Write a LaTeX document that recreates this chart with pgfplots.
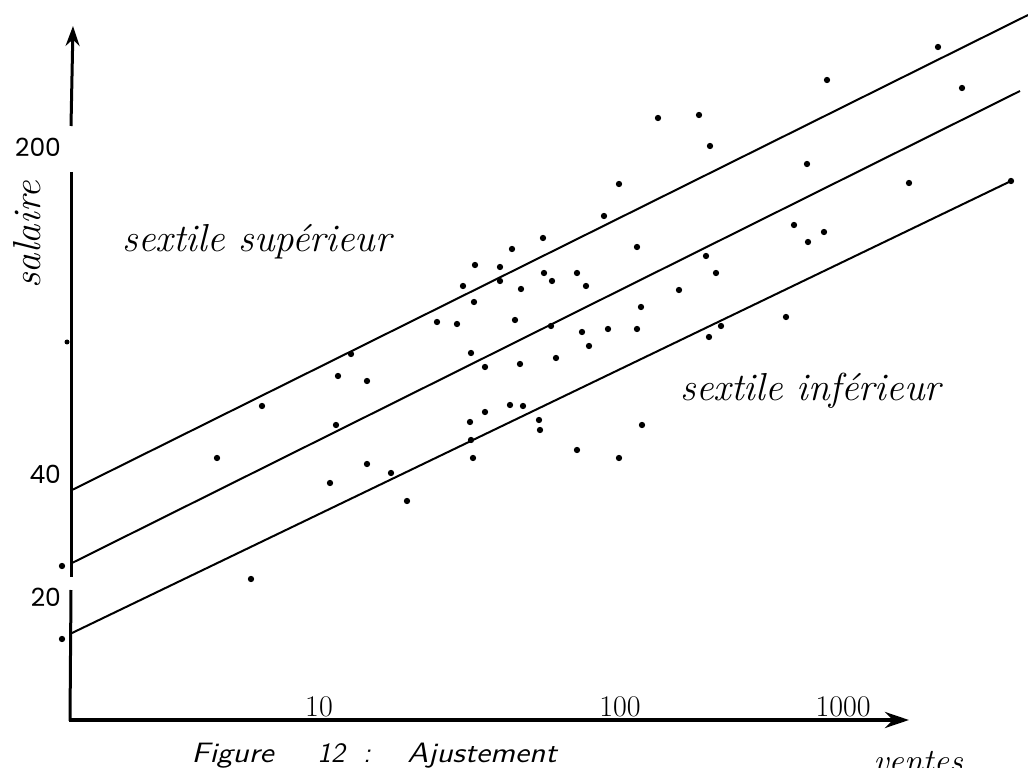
\documentclass[border=0pt]{standalone}
\usepackage{fontspec}
\usepackage{graphicx}
\usepackage{pgfplots}
\pgfplotsset{compat=1.18}
\usepackage{pgfplotstable}
\usetikzlibrary{arrows.meta}
\newfontfamily\numfont{Poppins}
\newcommand\hand{\fontsize{19.5}{23}\selectfont\itshape}

% points (picture units: px from left, py from top)
\pgfplotstableread{
px py
62 566
62 639
217 458
262 406
251 579
336 425
338 376
351 354
367 381
367 464
391 473
330 483
407 501
437 322
457 324
463 286
474 302
475 265
471 353
485 367
470 422
485 412
510 405
523 406
539 420
540 430
471 440
473 458
500 267
500 281
512 249
515 320
521 289
520 364
543 238
544 273
552 281
551 326
556 358
577 273
586 286
582 332
589 346
577 450
604 216
608 329
619 184
619 458
637 247
637 329
641 307
642 425
658 118
679 290
699 115
706 256
709 337
710 146
716 273
721 326
786 317
794 225
807 164
808 242
824 232
827 80
909 183
938 47
962 88
1011 181
}\pointstab
\pgfplotstableread{
px py
72 490
1028 15
}\upperline
\pgfplotstableread{
px py
72 563
1020 91
}\midline
\pgfplotstableread{
px py
72 633
1011 181
}\lowerline

\begin{document}
\begin{tikzpicture}
\useasboundingbox (0,0) rectangle (514pt,383.5pt);
\begin{axis}[
  at={(0,0)}, anchor=south west,
  scale only axis, width=514pt, height=383.5pt,
  xmin=-0.05980, xmax=3.35548, ymin=0.95320, ymax=2.62060,
  axis line style={draw=none}, major tick length=0pt, tick style={draw=none},
  clip=false,
  xtick={1,2,2.741}, xticklabels={10,100,1000},
  ytick={1.32277,1.59016,2.30103}, yticklabels={20,40,200},
  x tick label style={anchor=base, yshift=25.5pt, font=\fontsize{15}{15}\selectfont},
  y tick label style={anchor=east, xshift=34pt, font=\numfont\fontsize{12.5}{12.5}\selectfont},
]
\addplot[only marks, mark=*, mark size=1.35pt, mark options={draw=black,fill=black}]
  table[x expr={1+(\thisrow{px}-319)/301}, y expr={2.30103-(\thisrow{py}-147)/460}] {\pointstab};
\addplot[black, line width=1pt]
  table[x expr={1+(\thisrow{px}-319)/301}, y expr={2.30103-(\thisrow{py}-147)/460}] {\upperline};
\addplot[black, line width=1pt]
  table[x expr={1+(\thisrow{px}-319)/301}, y expr={2.30103-(\thisrow{py}-147)/460}] {\midline};
\addplot[black, line width=1pt]
  table[x expr={1+(\thisrow{px}-319)/301}, y expr={2.30103-(\thisrow{py}-147)/460}] {\lowerline};
\end{axis}
\begin{scope}[x=0.5pt, y=-0.5pt, yshift=383.5pt]
  \draw[line width=1.5pt, -{Stealth[length=10pt,width=7pt]}] (71,126) -- (73,26);
  \draw[line width=1.5pt] (71,172) -- (71,577);
  \draw[line width=1.5pt] (71,590) -- (70,721);
  \draw[line width=2pt, -{Stealth[length=12pt,width=8pt]}] (69,720) -- (909,720);
  \fill (67,342) circle (2.5);
  \node[anchor=base west, font=\hand, inner sep=0pt] at (122,252) {sextile supérieur};
  \node[anchor=base west, font=\hand, inner sep=0pt] at (680,400) {sextile inférieur};
  \node[rotate=90, font=\hand, inner sep=0pt] at (27,235) {salaire};
  \begin{scope}[every node/.style={font=\sffamily\itshape\fontsize{14}{16}\selectfont, inner sep=0pt}]
    \node[anchor=base east] at (274,762) {\scalebox{1.15}[1]{Figure}};
    \node[anchor=base] at (331,762) {12};
    \node[anchor=base] at (367,762) {:};
    \node[anchor=base west] at (407,762) {\scalebox{1.15}[1]{Ajustement}};
  \end{scope}
  \node[anchor=base west, inner sep=0pt, font=\fontsize{17}{17}\selectfont\itshape] at (873,772) {ventes};
\end{scope}
\end{tikzpicture}
\end{document}
